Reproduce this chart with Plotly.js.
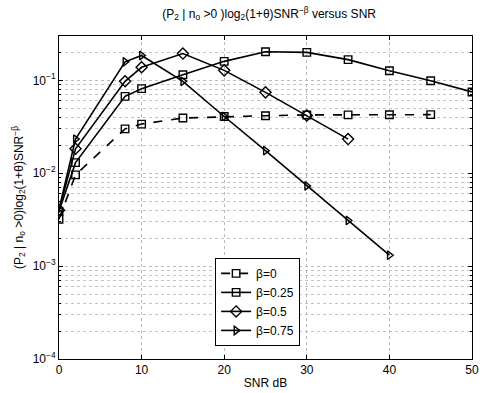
<!DOCTYPE html>
<html>
<head>
<meta charset="utf-8">
<script src="https://cdn.plot.ly/plotly-3.0.1.min.js"></script>
<style>html,body{margin:0;padding:0;background:#fff;}#chart{width:485px;height:393px;}</style>
</head>
<body>
<div id="chart"></div>
<script>
const snr0 = [0, 2, 8, 10, 15, 20, 25, 30, 35, 40, 45];
const beta0 = [0.0032, 0.0096, 0.030, 0.0338, 0.0393, 0.0408, 0.0416, 0.0424, 0.0425, 0.0426, 0.0427];
const snr25 = [0, 2, 8, 10, 15, 20, 25, 30, 35, 40, 45, 50];
const beta25 = [0.0039, 0.0130, 0.0672, 0.0813, 0.115, 0.160, 0.203, 0.200, 0.167, 0.127, 0.099, 0.075];
const snr50 = [0, 2, 8, 10, 15, 20, 25, 30, 35];
const beta50 = [0.0040, 0.0183, 0.0976, 0.138, 0.194, 0.128, 0.0742, 0.0419, 0.0233];
const snr75 = [0, 2, 8, 10, 15, 20, 25, 30, 35, 40];
const beta75 = [0.0041, 0.0233, 0.158, 0.185, 0.0976, 0.0408, 0.0175, 0.0073, 0.0031, 0.00131];
const names = ['β=0', 'β=0.25', 'β=0.5', 'β=0.75'];
const yTickVals = [1e-4, 1e-3, 1e-2, 1e-1];
const yTickText = ['10<sup>−4</sup>', '10<sup>−3</sup>', '10<sup>−2</sup>', '10<sup>−1</sup>'];
const xTickVals = [0, 10, 20, 30, 40, 50];

function tr(x, y, name, symbol, dash) {
  return {
    x: x, y: y, name: name, type: 'scatter', mode: 'lines+markers',
    line: {color: '#000', width: 1.6, dash: dash},
    marker: {symbol: symbol, size: symbol === 'diamond-open' ? 8.5 : 7.5, color: '#000', line: {width: 1.4, color: '#000'}}
  };
}
const data = [
  tr(snr0, beta0, names[0], 'square-open', 'dash'),
  tr(snr25, beta25, names[1], 'square-open', 'solid'),
  tr(snr50, beta50, names[2], 'diamond-open', 'solid'),
  tr(snr75, beta75, names[3], 'triangle-right-open', 'solid')
];
const font = {family: 'Liberation Sans, Arial, sans-serif', size: 12, color: '#000'};
const layout = {
  width: 485, height: 393,
  margin: {l: 59, r: 13, t: 36, b: 34},
  paper_bgcolor: '#fff', plot_bgcolor: '#fff',
  font: font,
  showlegend: true,
  title: {text: '(P<sub>2</sub> | n<sub>o</sub> >0 )log<sub>2</sub>(1+θ)SNR<sup>−β</sup> versus SNR', x: 0.555, xanchor: 'center', y: 0.965, yanchor: 'middle', font: {family: font.family, size: 12, color: '#000'}},
  xaxis: {
    range: [0, 50], tickvals: xTickVals, ticks: 'inside', ticklen: 4, tickcolor: '#000',
    showline: true, linecolor: '#000', linewidth: 1, mirror: 'ticks',
    showgrid: true, gridcolor: '#bbb', griddash: 'dot', gridwidth: 1, zeroline: false,
    title: {text: 'SNR dB', standoff: 2, font: font}, tickfont: font
  },
  yaxis: {
    type: 'log', range: [-4, Math.log10(0.3)], tickvals: yTickVals, ticktext: yTickText,
    ticks: 'inside', ticklen: 4, tickcolor: '#000',
    showline: true, linecolor: '#000', linewidth: 1, mirror: 'ticks',
    showgrid: true, gridcolor: '#bbb', griddash: 'dot', gridwidth: 1, zeroline: false,
    minor: {dtick: 'D1', showgrid: true, gridcolor: '#c4c4c4', griddash: 'dot', ticks: 'inside', ticklen: 2, tickcolor: '#000'},
    title: {text: '(P<sub>2</sub> | n<sub>o</sub> >0)log<sub>2</sub>(1+θ)SNR<sup>−β</sup>', standoff: 6, font: font}, tickfont: font
  },
  legend: {
    x: 0.378, y: 0.313, xanchor: 'left', yanchor: 'top',
    bgcolor: '#fff', bordercolor: '#000', borderwidth: 1,
    font: font, tracegroupgap: 0, itemwidth: 30
  }
};
Plotly.newPlot('chart', data, layout, {staticPlot: true, displayModeBar: false});
</script>
</body>
</html>
